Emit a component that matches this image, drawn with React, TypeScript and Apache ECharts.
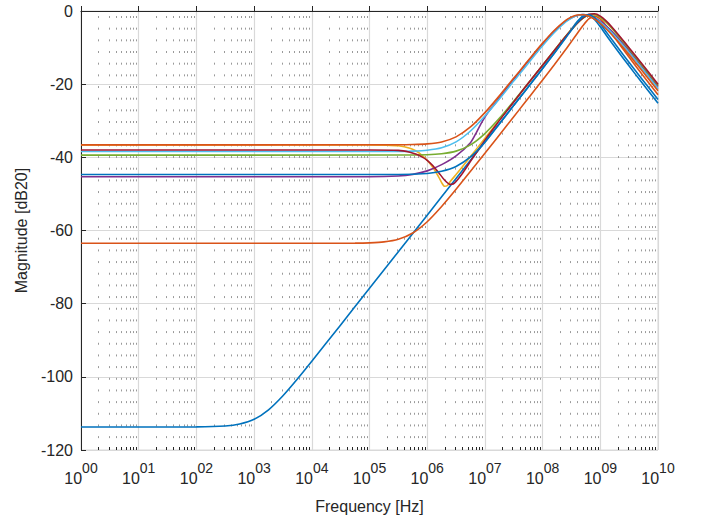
import React, { useEffect, useRef } from "react";
import * as echarts from "echarts";

type Pt = [number, number];

// x values are base-10 exponents of the frequency in Hz (log-frequency axis)
const decadeExponents = [0, 1, 2, 3, 4, 5, 6, 7, 8, 9, 10];
const yTickValues = [0, -20, -40, -60, -80, -100, -120];
const minorMultiples = [2, 3, 4, 5, 6, 7, 8, 9];

const seriesNames = ["H1", "H2", "H3", "H4", "H5", "H6", "H7", "H8", "H9"];
const seriesColors = ["#0072BD", "#D95319", "#EDB120", "#7E2F8E", "#77AC30", "#4DBEEE", "#A2142F", "#0072BD", "#D95319"];

const blue1: Pt[] = [[0,-113.7],[1,-113.7],[2,-113.67],[2.5,-113.44],[2.75,-112.9],[3,-111.61],[3.25,-109.0],[3.5,-105.15],[3.75,-100.58],[4,-95.73],[4.5,-85.8],[5,-75.8],[5.5,-65.8],[6,-55.8],[6.5,-45.8],[7,-35.8],[7.4,-27.8],[7.6,-23.78],[7.8,-19.76],[8,-15.69],[8.2,-11.53],[8.4,-7.2],[8.5,-4.98],[8.6,-2.87],[8.7,-1.34],[8.8,-1.1],[8.9,-2.32],[9,-4.33],[9.1,-6.54],[9.2,-8.74],[9.4,-13.0],[9.6,-17.12],[9.8,-21.17],[10,-25.19]];
const orangeLow: Pt[] = [[0,-63.5],[4,-63.5],[4.75,-63.46],[5,-63.37],[5.25,-63.12],[5.5,-62.4],[5.75,-60.69],[6,-57.6],[6.25,-53.44],[6.5,-48.75],[7,-38.89],[7.4,-30.9],[7.6,-26.89],[7.8,-22.88],[8,-18.84],[8.2,-14.75],[8.4,-10.55],[8.5,-8.37],[8.6,-6.16],[8.7,-3.98],[8.8,-2.17],[8.9,-1.4],[9,-2.17],[9.1,-3.98],[9.2,-6.16],[9.4,-10.55],[9.6,-14.75],[9.8,-18.84],[10,-22.88]];
const yellow: Pt[] = [[0,-36.6],[5,-36.6],[5.3,-36.65],[5.5,-36.85],[5.7,-37.5],[5.8,-38.2],[5.9,-39.3],[6,-40.8],[6.1,-42.8],[6.2,-45.4],[6.25,-46.9],[6.3,-47.9],[6.35,-47.7],[6.4,-46.6],[6.5,-44.7],[6.6,-42.75],[6.7,-40.8],[6.8,-38.8],[7,-34.8],[7.2,-30.8],[7.4,-26.8],[7.6,-22.8],[7.8,-18.81],[8,-14.81],[8.2,-10.84],[8.4,-6.93],[8.5,-5.07],[8.6,-3.34],[8.7,-1.93],[8.8,-1.06],[8.9,-0.97],[9,-1.7],[9.1,-3.03],[9.2,-4.71],[9.4,-8.48],[9.6,-12.42],[9.8,-16.41],[10,-20.4]];
const purple: Pt[] = [[0,-45.3],[5,-45.3],[5.5,-45.1],[5.75,-44.65],[6,-43.7],[6.25,-42.0],[6.5,-39.6],[6.75,-36.0],[6.85,-33.3],[6.95,-30.3],[7.05,-27.8],[7.2,-24.8],[7.4,-20.7],[7.6,-16.67],[7.8,-12.76],[8,-9.0],[8.2,-5.56],[8.4,-2.8],[8.5,-1.83],[8.6,-1.21],[8.7,-1.0],[8.8,-1.21],[8.9,-1.83],[9,-2.8],[9.1,-4.06],[9.2,-5.56],[9.4,-9.0],[9.6,-12.76],[9.8,-16.67],[10,-20.63]];
const green: Pt[] = [[0,-39.4],[5.5,-39.36],[6,-39.28],[6.25,-39.02],[6.5,-38.3],[6.75,-36.59],[7,-33.5],[7.25,-29.34],[7.5,-24.65],[7.6,-22.7],[7.8,-18.8],[8,-14.8],[8.2,-10.84],[8.4,-6.93],[8.5,-5.07],[8.6,-3.34],[8.7,-1.93],[8.8,-1.06],[8.9,-0.97],[9,-1.68],[9.1,-3.0],[9.2,-4.66],[9.4,-8.42],[9.6,-12.35],[9.8,-16.33],[10,-20.3]];
const lightBlue: Pt[] = [[0,-38.4],[5,-38.4],[5.5,-38.36],[5.75,-38.29],[6,-38.05],[6.25,-37.39],[6.5,-35.77],[6.75,-32.8],[7,-28.7],[7.25,-24.04],[7.5,-19.15],[7.6,-17.25],[7.8,-13.32],[8,-9.51],[8.2,-5.96],[8.4,-3.01],[8.5,-1.93],[8.6,-1.24],[8.7,-1.0],[8.8,-1.24],[8.9,-1.93],[9,-3.01],[9.1,-4.37],[9.2,-5.96],[9.4,-9.51],[9.6,-13.32],[9.8,-17.25],[10,-21.22]];
const darkRed: Pt[] = [[0,-38.0],[5,-38.0],[5.5,-38.1],[5.7,-38.6],[5.8,-39.1],[5.9,-39.8],[6,-40.8],[6.1,-42.3],[6.2,-44.2],[6.3,-46.2],[6.4,-47.4],[6.45,-47.3],[6.5,-46.6],[6.6,-44.6],[6.7,-42.3],[6.8,-39.9],[6.9,-37.6],[7,-35.3],[7.2,-31.0],[7.4,-26.9],[7.6,-22.8],[7.8,-18.8],[8,-14.8],[8.2,-10.85],[8.4,-6.95],[8.5,-5.1],[8.6,-3.35],[8.7,-1.9],[8.8,-0.9],[8.9,-0.75],[9,-1.4],[9.1,-2.7],[9.2,-4.35],[9.4,-8.1],[9.6,-12.05],[9.8,-16.0],[10,-20.0]];
const blue8: Pt[] = [[0,-44.7],[5.5,-44.7],[6,-44.4],[6.25,-43.8],[6.5,-42.5],[6.75,-39.9],[7,-35.9],[7.25,-30.9],[7.5,-25.8],[7.6,-23.79],[7.8,-19.77],[8,-15.72],[8.2,-11.6],[8.4,-7.37],[8.5,-5.22],[8.6,-3.17],[8.7,-1.57],[8.8,-1.01],[8.9,-1.82],[9,-3.56],[9.1,-5.65],[9.2,-7.8],[9.4,-12.02],[9.6,-16.13],[9.8,-20.17],[10,-24.19]];
const orangeTop: Pt[] = [[0,-36.6],[5.5,-36.57],[5.75,-36.51],[6,-36.32],[6.25,-35.79],[6.5,-34.4],[6.75,-31.7],[7,-27.79],[7.25,-23.2],[7.5,-18.33],[7.6,-16.46],[7.8,-12.55],[8,-8.78],[8.2,-5.32],[8.4,-2.56],[8.5,-1.63],[8.6,-1.1],[8.7,-1.03],[8.8,-1.42],[8.9,-2.24],[9,-3.38],[9.1,-4.85],[9.2,-6.48],[9.4,-10.08],[9.6,-13.91],[9.8,-17.84],[10,-21.82]];

const allSeries = [blue1, orangeLow, yellow, purple, green, lightBlue, darkRed, blue8, orangeTop];

const FONT = "Liberation Sans";
const INK = "#262626";
const GRID = "#d9d9d9";

export default function App() {
  const ref = useRef<HTMLDivElement>(null);
  useEffect(() => {
    if (!ref.current) return;
    const chart = echarts.init(ref.current, null, { renderer: "svg" });
    const xMin = decadeExponents[0];
    const xMax = decadeExponents[decadeExponents.length - 1];
    const yMin = yTickValues[yTickValues.length - 1];
    const yMax = yTickValues[0];
    const minorXs: number[][] = [];
    for (let d = xMin; d < xMax; d++) {
      for (const m of minorMultiples) minorXs.push([d + Math.log10(m), 0]);
    }
    const option: any = {
      animation: false,
      backgroundColor: "#ffffff",
      textStyle: { fontFamily: FONT },
      grid: { left: 81, right: 43, top: 11, bottom: 71, show: true, borderColor: GRID, borderWidth: 1 },
      xAxis: {
        type: "value",
        min: xMin,
        max: xMax,
        interval: 1,
        name: "Frequency [Hz]",
        nameLocation: "middle",
        nameGap: 48,
        nameTextStyle: { fontSize: 16, color: INK, fontFamily: FONT },
        axisLine: { show: true, lineStyle: { color: INK, width: 1 } },
        axisTick: { show: true, inside: true, length: 5, lineStyle: { color: INK } },
        splitLine: { show: true, lineStyle: { color: GRID, width: 1.2 } },
        axisLabel: {
          margin: 11,
          color: INK,
          showMinLabel: true,
          showMaxLabel: true,
          formatter: (v: number) => "{b|10}{s|" + String(Math.round(v)).padStart(2, "0") + "}",
          rich: {
            b: { fontSize: 16, fontFamily: FONT, color: INK, lineHeight: 25, verticalAlign: "bottom" },
            s: { fontSize: 14, fontFamily: FONT, color: INK, lineHeight: 16, verticalAlign: "top" },
          },
        },
      },
      yAxis: {
        type: "value",
        min: yMin,
        max: yMax,
        interval: 20,
        name: "Magnitude [dB20]",
        nameLocation: "middle",
        nameGap: 52,
        nameTextStyle: { fontSize: 16, color: INK, fontFamily: FONT },
        axisLine: { show: true, lineStyle: { color: INK, width: 1 } },
        axisTick: { show: true, inside: true, length: 5, lineStyle: { color: INK } },
        splitLine: { show: true, lineStyle: { color: GRID, width: 1.2 } },
        axisLabel: { fontSize: 16, color: INK, margin: 8, fontFamily: FONT },
      },
      series: [
        {
          type: "custom",
          name: "minor",
          silent: true,
          z: 1,
          data: minorXs,
          renderItem: (params: any, api: any) => {
            const v = api.value(0);
            const top = api.coord([v, yMax]);
            const bot = api.coord([v, yMin]);
            const x = Math.round(top[0]) + 0.5;
            return {
              type: "group",
              children: [
                {
                  type: "line",
                  shape: { x1: x, y1: top[1], x2: x, y2: bot[1] },
                  style: { stroke: "#9a9a9a", lineWidth: 1, lineDash: [2, 9.67], lineDashOffset: -4.7 },
                },
                {
                  type: "line",
                  shape: { x1: x, y1: bot[1], x2: x, y2: bot[1] - 3 },
                  style: { stroke: INK, lineWidth: 1 },
                },
              ],
            };
          },
        },
        ...allSeries.map((pts, i) => ({
          type: "line",
          name: seriesNames[i],
          data: pts,
          showSymbol: false,
          symbol: "none",
          smooth: 0.25,
          z: 3 + i,
          lineStyle: { color: seriesColors[i], width: 1.6 },
          itemStyle: { color: seriesColors[i] },
        })),
      ],
    };
    chart.setOption(option);
    return () => chart.dispose();
  }, []);
  return <div ref={ref} style={{ position: "fixed", left: 0, top: 0, width: 701, height: 521 }} />;
}
